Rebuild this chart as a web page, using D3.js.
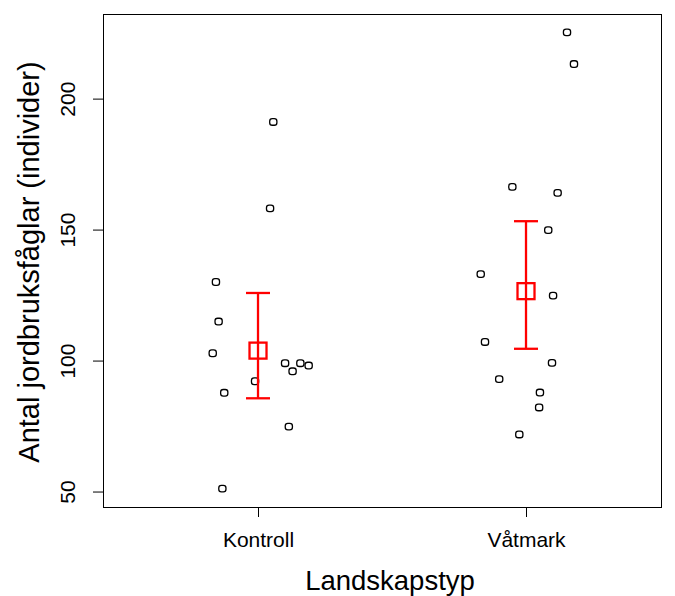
<!DOCTYPE html>
<html>
<head>
<meta charset="utf-8">
<script src="https://cdn.jsdelivr.net/npm/d3@7"></script>
<style>
  html, body { margin: 0; padding: 0; background: #fff; }
  svg { display: block; font-family: "Liberation Sans", Arial, sans-serif; }
</style>
</head>
<body>
<svg id="chart" width="675" height="596"></svg>
<script>
// ---- Data ----
const categories = ["Kontroll", "Våtmark"];

// Observed values (individual sites)
const kontrollValues = [191.1, 158.1, 130.0, 114.9, 102.8, 99.0, 95.9, 99.0, 98.1, 92.1, 87.7, 74.8, 51.1];
const kontrollJitter = [0.057, 0.045, -0.157, -0.147, -0.169, 0.101, 0.129, 0.158, 0.189, -0.011, -0.126, 0.115, -0.133];

const vatmarkValues = [225.3, 213.2, 166.3, 164.0, 149.8, 133.0, 124.8, 107.1, 99.1, 92.9, 87.8, 82.1, 71.8];
const vatmarkJitter = [0.153, 0.179, -0.051, 0.118, 0.083, -0.169, 0.101, -0.153, 0.097, -0.100, 0.052, 0.049, -0.025];

// Group means and interval limits
const groupMeans = [103.8, 126.5];
const groupLower = [85.6, 104.5];
const groupUpper = [125.8, 153.2];

const yTicks = [50, 100, 150, 200];
const xTitle = "Landskapstyp";
const yTitle = "Antal jordbruksfåglar (individer)";

// ---- Layout ----
const plot = { left: 103, right: 661, top: 14, bottom: 507 };
const svg = d3.select("#chart");

const x = d3.scaleLinear().domain([0.4216, 2.5037]).range([plot.left, plot.right]);
const y = d3.scaleLinear().domain([44.1, 232.3]).range([plot.bottom, plot.top]);

// Points
const points = [];
kontrollValues.forEach((v, i) => points.push({ g: 1, v, j: kontrollJitter[i] }));
vatmarkValues.forEach((v, i) => points.push({ g: 2, v, j: vatmarkJitter[i] }));

svg.append("g").selectAll("rect").data(points).enter().append("rect")
  .attr("x", d => x(d.g + d.j) - 3.6)
  .attr("y", d => y(d.v) - 3.3)
  .attr("width", 7.2)
  .attr("height", 6.6)
  .attr("rx", 2.6)
  .attr("ry", 2.6)
  .attr("fill", "none")
  .attr("stroke", "#000")
  .attr("stroke-width", 1.3);

// Error bars
const eb = svg.append("g").attr("stroke", "#ff0000").attr("fill", "none").attr("stroke-width", 2.3);
categories.forEach((c, i) => {
  const cx = x(i + 1);
  eb.append("line").attr("x1", cx).attr("x2", cx).attr("y1", y(groupLower[i])).attr("y2", y(groupUpper[i]));
  eb.append("line").attr("x1", cx - 12).attr("x2", cx + 12).attr("y1", y(groupLower[i])).attr("y2", y(groupLower[i]));
  eb.append("line").attr("x1", cx - 12).attr("x2", cx + 12).attr("y1", y(groupUpper[i])).attr("y2", y(groupUpper[i]));
  eb.append("rect").attr("x", cx - 8.5).attr("y", y(groupMeans[i]) - 8).attr("width", 17).attr("height", 16);
});

// Box
svg.append("rect")
  .attr("x", plot.left).attr("y", plot.top)
  .attr("width", plot.right - plot.left).attr("height", plot.bottom - plot.top)
  .attr("fill", "none").attr("stroke", "#000").attr("stroke-width", 1)
  .attr("shape-rendering", "crispEdges");

// Y axis
const yAxis = svg.append("g").attr("transform", `translate(${plot.left},0)`)
  .call(d3.axisLeft(y).tickValues(yTicks).tickSize(10).tickSizeOuter(0).tickFormat(d3.format("d")));
yAxis.select(".domain").remove();
yAxis.selectAll("line").attr("stroke", "#000");
yAxis.selectAll("text")
  .attr("font-size", 21).attr("fill", "#000")
  .attr("text-anchor", "middle")
  .attr("dy", 0)
  .attr("x", 0).attr("y", 0)
  .attr("transform", "translate(-28,0) rotate(-90)");

// X axis
const xAxis = svg.append("g").attr("transform", `translate(0,${plot.bottom})`)
  .call(d3.axisBottom(x).tickValues([1, 2]).tickSize(10).tickSizeOuter(0).tickFormat(d => categories[d - 1]));
xAxis.select(".domain").remove();
xAxis.selectAll("line").attr("stroke", "#000");
xAxis.selectAll("text").attr("font-size", 21).attr("fill", "#000").attr("dy", 0).attr("y", 39.5);

// Titles
svg.append("text")
  .attr("x", 390).attr("y", 590)
  .attr("text-anchor", "middle").attr("font-size", 27.5).attr("fill", "#000")
  .text(xTitle);

svg.append("text")
  .attr("transform", `translate(39,262) rotate(-90)`)
  .attr("text-anchor", "middle").attr("font-size", 29).attr("fill", "#000")
  .text(yTitle);
</script>
</body>
</html>
